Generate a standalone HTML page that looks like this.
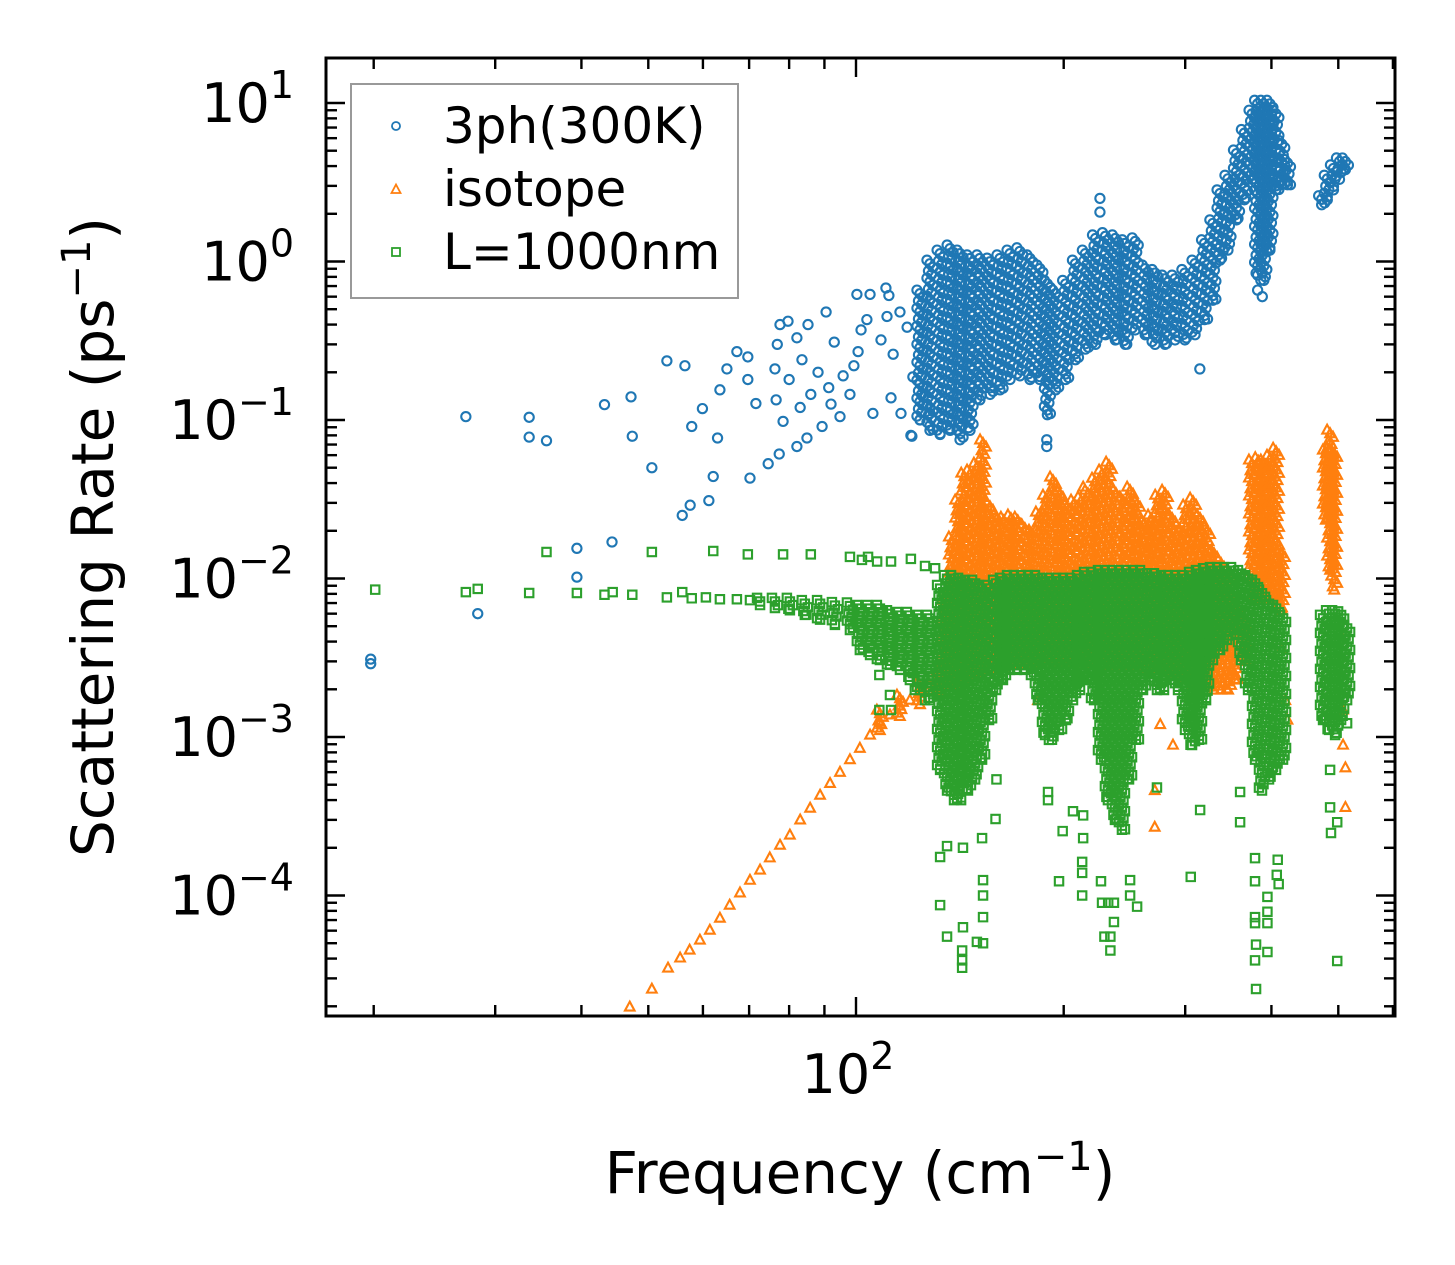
<!DOCTYPE html>
<html><head><meta charset="utf-8"><style>
html,body{margin:0;padding:0;background:#fff;}
svg{display:block;font-family:"DejaVu Sans","Liberation Sans",sans-serif;}
</style></head><body>
<svg id="chart" width="1455" height="1265" viewBox="0 0 1455 1265" xmlns="http://www.w3.org/2000/svg">
<rect x="0" y="0" width="1455" height="1265" fill="#fff"/>
<defs><clipPath id="plotclip"><rect x="326" y="58" width="1069" height="958"/></clipPath></defs>
<g id="marks" clip-path="url(#plotclip)"></g>
<g id="axes"></g>
<g id="legend">
  <rect x="351" y="84" width="387" height="214" fill="#fff" fill-opacity="0.8" stroke="#999" stroke-width="2"/>
  <circle cx="396" cy="126" r="4" fill="none" stroke="#1f77b4" stroke-width="1.8"/>
  <text x="443" y="143" font-size="50" fill="#000">3ph(300K)</text>
  <path d="M396,184.5 L400.5,193 L391.5,193 Z" fill="none" stroke="#ff7f0e" stroke-width="1.8"/>
  <text x="443" y="206" font-size="50" fill="#000">isotope</text>
  <rect x="392" y="248" width="8" height="8" fill="none" stroke="#2ca02c" stroke-width="1.8"/>
  <text x="443" y="269" font-size="50" fill="#000">L=1000nm</text>
</g>
<text x="860" y="1193" font-size="58" text-anchor="middle" fill="#000">Frequency (cm<tspan dy="-23" font-size="40">−1</tspan><tspan dy="23">)</tspan></text>
<text transform="translate(113,537) rotate(-90)" font-size="58" text-anchor="middle" fill="#000">Scattering Rate (ps<tspan dy="-23" font-size="40">−1</tspan><tspan dy="23">)</tspan></text>
</svg>
<script>
// ---- data: 3-phonon (blue) ----
const blueFreq = [19.8,19.8,27.2,28.3,33.6,33.6,35.6,39.4,39.4,43.2,44.3,47.2,47.4,50.6,53.2,56.5,57.8,59.9,62.1,63.0,61.2,56.0,57.5,63.5,65.0,67.2,69.7,69.7,71.6,70.2,74.6,77.4,76.6,76.3,76.9,77.6,79.7,82.1,80.0,78.4,83.0,82.1,84.9,85.2,83.5,88.1,86.0,91.3,92.0,89.3,94.8,90.5,93.0,95.8,99.3,98.0,100.7,101.7,103.7,100.3,104.8,110.5,111.6,105.8,108.7,112.4,116.2,120.1,110.9,115.8,118.6,113.2,120.9,125.1,128.0,225.7,225.7,315,189,189,120.5,382,388];
const blueRate = [3.1e-3,2.9e-3,0.105,6e-3,0.104,0.078,0.074,0.0155,0.0102,0.125,0.017,0.14,0.079,0.05,0.236,0.22,0.091,0.118,0.044,0.077,0.031,0.025,0.029,0.155,0.21,0.27,0.25,0.18,0.127,0.043,0.053,0.061,0.134,0.21,0.30,0.40,0.42,0.33,0.18,0.098,0.12,0.068,0.077,0.40,0.24,0.20,0.145,0.16,0.126,0.091,0.105,0.48,0.31,0.19,0.22,0.145,0.27,0.37,0.43,0.62,0.62,0.68,0.61,0.11,0.32,0.138,0.11,0.08,0.45,0.48,0.385,0.26,0.187,0.14,0.11,2.5,2.05,0.21,0.075,0.068,0.079,0.66,0.6];
const blueBandFreq = [123.8,128,132.4,136.9,141.5,146.3,151.2,156.4,161.7,167.2,172.8,178.7,184.7,189.4,194.7,201.3,208,215,222.4,229.9,237.6,245.6,253.9,262.5,271.3,280.5,290,299.7,310,320,329,337,346,356,365.5,375,382,390,398,406,414,422,473,482,492,502,512];
const blueBandHi = [0.66,1.02,1.18,1.27,1.18,1.10,1.10,1.05,1.10,1.18,1.22,1.10,0.95,0.76,0.66,0.76,1.02,1.18,1.47,1.52,1.47,1.37,1.41,0.95,0.89,0.82,0.82,0.89,1.02,1.37,1.83,2.83,3.5,5.05,6.8,9.0,10.4,10.4,10.4,9.0,5.8,4.4,2.6,3.5,4.07,4.5,4.5];
const blueBandLo = [0.10,0.086,0.081,0.086,0.075,0.086,0.134,0.145,0.155,0.18,0.19,0.18,0.18,0.108,0.155,0.18,0.24,0.28,0.30,0.345,0.32,0.30,0.37,0.345,0.30,0.30,0.32,0.32,0.345,0.43,0.57,1.02,1.18,1.83,2.45,3.3,0.82,0.76,1.18,2.83,3.05,3.05,2.28,2.45,2.83,3.3,3.8];
// ---- data: isotope (orange) ----
const orangeFreq = [47.0,50.6,53.4,55.6,57.4,59.4,61.4,63.5,65.6,67.9,70.2,72.6,75.0,77.6,80.2,83.0,85.8,88.7,91.7,94.8,98.0,101.3,104.8,108.3,112.0,115.8,119.7,123.8,128.0,132.4,213.4,183.5,271,288,276,508,512,508,512,271,414,419,422,508];
const orangeRate = [1.98e-5,2.57e-5,3.49e-5,4.04e-5,4.53e-5,5.24e-5,6.05e-5,7.2e-5,8.7e-5,1.04e-4,1.25e-4,1.45e-4,1.73e-4,2.08e-4,2.41e-4,3.0e-4,3.56e-4,4.3e-4,5.1e-4,6.0e-4,7.2e-4,8.5e-4,1.03e-3,1.24e-3,1.38e-3,1.57e-3,1.71e-3,1.92e-3,2.13e-3,2.35e-3,0.0378,1.7e-3,4.6e-4,8.9e-4,1.2e-3,8.9e-4,6.4e-4,1.48e-3,3.6e-4,2.7e-4,3.6e-3,1.7e-3,1.28e-3,4.1e-3];
const orangeBandFreq = [108.3,115.8,123.8,132.4,134.6,137.7,140.6,143.5,146.3,149.7,152.8,156.4,160.0,163.8,167.7,171.6,175.7,179.9,184.1,188.5,193.0,197.5,202.2,207.0,211.9,216.9,222.0,227.3,232.7,238.2,243.8,249.6,255.5,261.5,267.7,274.1,280.5,287.2,294.0,300.9,308.0,315.3,322.8,330.4,338.2,346.2,354.4,366.3,374.8,382.8,390.0,398.1,406.3,414.4,479.6,486.5,493.3];
const orangeBandHi = [1.48e-3,1.84e-3,2.2e-3,2.65e-3,0.0073,0.0183,0.0313,0.0463,0.0484,0.0535,0.075,0.0299,0.0252,0.0244,0.0252,0.0244,0.0218,0.0202,0.0263,0.0336,0.0437,0.0361,0.0299,0.0313,0.0327,0.0361,0.043,0.0484,0.0543,0.0361,0.0327,0.0378,0.0313,0.0234,0.0252,0.0336,0.0361,0.0252,0.0218,0.0291,0.0322,0.0252,0.0211,0.0151,0.0131,0.0113,0.0073,0.0055,0.056,0.058,0.056,0.060,0.0665,0.0151,0.0647,0.0865,0.0647];
const orangeBandLo = [1.1e-3,1.35e-3,1.6e-3,1.9e-3,0.00198,0.00213,0.00213,0.00229,0.00246,0.00246,0.00265,0.00265,0.00272,0.00272,0.00285,0.00285,0.00285,0.00285,0.00285,0.00285,0.00285,0.00285,0.00285,0.00285,0.00285,0.00285,0.00285,0.00285,0.00285,0.00285,0.00285,0.00285,0.00285,0.00265,0.00265,0.00265,0.00265,0.00246,0.00246,0.00229,0.00213,0.00207,0.00207,0.00198,0.00198,0.00198,0.00229,0.00306,0.0073,0.0073,0.0073,0.0073,0.0073,0.0063,0.0234,0.0113,0.00846];
// ---- data: boundary L=1000nm (green) ----
const greenFreq = [20.1,27.2,28.3,33.6,35.6,39.4,43.2,44.4,47.4,50.6,53.2,56.0,57.8,60.6,62.1,63.5,67.2,69.7,70.2,78.4,86.0,98.0,102.0,104.1,107.3,112.4,120.1,125.9,130.2,108.1,112.4,112.0,108.1,121.7,125.9];
const greenRate = [0.0085,0.0082,0.0086,0.0081,0.0147,0.0081,0.0079,0.0082,0.0079,0.0147,0.0076,0.0082,0.0075,0.0076,0.0149,0.0074,0.0074,0.0142,0.0073,0.0142,0.0142,0.0137,0.0131,0.0137,0.0128,0.0128,0.0133,0.012,0.0116,0.00148,0.00148,0.00184,0.00246,0.00198,0.00171];
const greenOutFreq = [132.4,135.5,142.9,142.5,142.5,142.5,152.8,152.8,152.8,149.7,152.8,135.5,159.3,132.4,142.9,152.3,159.8,189.8,189.8,196.9,199.3,206.3,213.4,213.4,212.7,212.7,212.7,226.5,227.3,232.0,236.5,236.5,229.1,233.7,233.7,249.6,249.6,255.5,273,305.6,315.3,360.3,360.3,378.7,378.7,378.7,378.7,394.7,394.7,380.0,394.7,378.7,380.0,394.7,408.5,407.2,409.8,486.5,498.2,488.0,498.2,486.5,514.9];
const greenOutRate = [8.7e-5,5.5e-5,6.3e-5,4.5e-5,3.9e-5,3.5e-5,1.25e-4,1.0e-4,7.3e-5,5.1e-5,5.0e-5,2.05e-4,3.04e-4,1.75e-4,2.0e-4,2.3e-4,5.4e-4,4.5e-4,4.0e-4,1.23e-4,2.55e-4,3.4e-4,3.2e-4,2.3e-4,1.63e-4,1.39e-4,1.0e-4,1.23e-4,9.0e-5,9.0e-5,9.0e-5,6.8e-5,5.5e-5,5.5e-5,4.5e-5,1.25e-4,1.0e-4,8.5e-5,4.8e-4,1.31e-4,3.46e-4,4.5e-4,2.9e-4,1.72e-4,1.23e-4,7.3e-5,6.7e-5,7.9e-5,6.7e-5,4.9e-5,4.4e-5,3.9e-5,2.57e-5,9.8e-5,1.68e-4,1.35e-4,1.18e-4,3.6e-4,2.9e-4,2.48e-4,3.86e-5,6.2e-4,1.22e-3];
const greenBandFreq = [72.6,76.3,80.2,84.3,88.7,93.2,98.0,101.3,104.8,108.3,112.0,115.8,119.7,123.8,128.0,132.4,135.5,138.7,142.0,145.3,148.8,152.3,155.9,159.6,163.3,167.2,171.1,175.2,179.3,183.5,187.9,192.3,196.9,201.5,206.3,211.2,216.2,221.3,226.5,231.8,237.3,242.9,248.7,254.5,260.6,266.7,273.0,279.5,286.1,292.9,299.8,306.9,314.1,321.6,329.1,337.0,344.9,353.1,361.4,370.0,378.7,387.6,396.8,406.2,415.8,475.2,484.9,494.7,504.7,514.9];
const greenBandHi = [0.00754,0.00754,0.00754,0.0073,0.0073,0.0071,0.00705,0.0068,0.0068,0.0068,0.0063,0.00615,0.00615,0.00589,0.00589,0.0091,0.0105,0.0105,0.0101,0.0098,0.0098,0.0091,0.0091,0.0098,0.0101,0.0105,0.0105,0.0105,0.0105,0.0105,0.0101,0.0101,0.0101,0.0101,0.0101,0.0105,0.0110,0.0110,0.0113,0.0113,0.0113,0.0113,0.0113,0.0113,0.0113,0.0108,0.0108,0.0105,0.0105,0.0105,0.0105,0.0110,0.0113,0.0116,0.0118,0.0118,0.0118,0.0118,0.0113,0.0105,0.0098,0.0085,0.0073,0.0068,0.0059,0.0059,0.0063,0.0063,0.0062,0.0051];
const greenBandLo = [0.0068,0.00652,0.0063,0.00589,0.0055,0.0051,0.00473,0.00354,0.00329,0.00306,0.00285,0.00265,0.00229,0.00198,0.00171,0.00062,0.00046,0.0004,0.0004,0.00046,0.00054,0.00072,0.00128,0.00198,0.00229,0.00265,0.00265,0.00265,0.00246,0.00171,0.00103,0.00096,0.00111,0.00128,0.00171,0.00198,0.00229,0.00171,0.00072,0.0004,0.0003,0.00026,0.00054,0.00096,0.00198,0.00229,0.00198,0.00198,0.00229,0.00198,0.00111,0.00089,0.00096,0.00171,0.00306,0.00354,0.0041,0.00473,0.00306,0.00198,0.00072,0.00046,0.00054,0.00062,0.00072,0.00128,0.00111,0.00103,0.00128,0.00171];
// ---- axis ticks ----
const yMajorTicks = [1e-4,1e-3,1e-2,1e-1,1,10];
const yTickExp = ["−4","−3","−2","−1","0","1"];
const xMajorTicks = [100];
const xTickExp = ["2"];

const NS = "http://www.w3.org/2000/svg";
const X0 = 326, X1 = 1395, Y0 = 58, Y1 = 1016;
const xs = f => 856 + 690 * (Math.log10(f) - 2);
const ys = r => 103 + 158.5 * (1 - Math.log10(r));
const marks = document.getElementById('marks');
const axes = document.getElementById('axes');

function shape(kind, cx, cy) {
  if (kind === 'circle') { const r = 4.6; return `M${cx-r},${cy}a${r},${r} 0 1,0 ${2*r},0a${r},${r} 0 1,0 ${-2*r},0`; }
  if (kind === 'tri') { return `M${cx},${cy-5.3}L${cx+4.8},${cy+3.6}L${cx-4.8},${cy+3.6}Z`; }
  return `M${cx-4.2},${cy-4.2}h8.4v8.4h-8.4Z`;
}
const colors = {circle:'#1f77b4', tri:'#ff7f0e', square:'#2ca02c'};
function mkPath(d, kind, name) {
  const p = document.createElementNS(NS, 'path');
  p.setAttribute('d', d);
  p.setAttribute('fill', 'none');
  p.setAttribute('stroke', colors[kind]);
  p.setAttribute('stroke-width', '2.1');
  
  
  marks.appendChild(p);
  return p;
}
function drawBands(freq, hi, lo, kind, name) {
  const n = Math.min(freq.length, hi.length, lo.length);
  const jit = [-3, 0, 3, -1.5, 1.5];
  for (let i = 0; i < n; i++) {
    const cx = xs(freq[i]);
    const yt = ys(hi[i]), yb = ys(lo[i]);
    let d = '';
    let k = 0;
    for (let y = yt; y <= yb + 0.01; y += 3.6) { d += shape(kind, cx + jit[k % 5], y); k++; }
    d += shape(kind, cx, yb);
    const p = mkPath(d, kind, name);
  }
}
function drawPoints(freq, rate, kind, name) {
  const n = Math.min(freq.length, rate.length);
  for (let i = 0; i < n; i++) {
    const p = mkPath(shape(kind, xs(freq[i]), ys(rate[i])), kind, name);
  }
}
drawPoints(blueFreq, blueRate, 'circle', '3ph-point');
drawBands(blueBandFreq, blueBandHi, blueBandLo, 'circle', '3ph-dense-column');
drawPoints(orangeFreq, orangeRate, 'tri', 'isotope-point');
drawBands(orangeBandFreq, orangeBandHi, orangeBandLo, 'tri', 'isotope-dense-column');
drawPoints(greenFreq, greenRate, 'square', 'boundary-point');
drawPoints(greenOutFreq, greenOutRate, 'square', 'boundary-point');
drawBands(greenBandFreq, greenBandHi, greenBandLo, 'square', 'boundary-dense-column');

function line(x1, y1, x2, y2, w, name) {
  const l = document.createElementNS(NS, 'line');
  l.setAttribute('x1', x1); l.setAttribute('y1', y1); l.setAttribute('x2', x2); l.setAttribute('y2', y2);
  l.setAttribute('stroke', '#000'); l.setAttribute('stroke-width', w);
  
  
  axes.appendChild(l);
}
for (let e = -5; e <= 1; e++) {
  for (let m = 1; m <= 9; m++) {
    const v = m * Math.pow(10, e);
    const y = ys(v);
    if (y < Y0 + 1 || y > Y1 - 1) continue;
    const len = m === 1 ? 19 : 11;
    line(X0, y, X0 + len, y, 2.4, m === 1 ? 'y-major-tick' : 'y-minor-tick');
    line(X1, y, X1 - len, y, 2.4, m === 1 ? 'y-major-tick-right' : 'y-minor-tick-right');
  }
}
for (let e = 1; e <= 2; e++) {
  for (let m = 1; m <= 9; m++) {
    const v = m * Math.pow(10, e);
    const x = xs(v);
    if (x < X0 + 1 || x > X1 - 1) continue;
    const len = m === 1 ? 19 : 11;
    line(x, Y1, x, Y1 - len, 2.4, m === 1 ? 'x-major-tick' : 'x-minor-tick');
    line(x, Y0, x, Y0 + len, 2.4, m === 1 ? 'x-major-tick-top' : 'x-minor-tick-top');
  }
}
const fr = document.createElementNS(NS, 'rect');
fr.setAttribute('x', X0); fr.setAttribute('y', Y0); fr.setAttribute('width', X1 - X0); fr.setAttribute('height', Y1 - Y0);
fr.setAttribute('fill', 'none'); fr.setAttribute('stroke', '#000'); fr.setAttribute('stroke-width', '3');


axes.appendChild(fr);
yMajorTicks.forEach((v, i) => {
  const t = document.createElementNS(NS, 'text');
  t.setAttribute('x', 294); t.setAttribute('y', ys(v) + 19);
  t.setAttribute('text-anchor', 'end'); t.setAttribute('font-size', '54'); t.setAttribute('fill', '#000');
  
  
  t.innerHTML = `10<tspan dy="-24" font-size="38">${yTickExp[i]}</tspan>`;
  axes.appendChild(t);
});
xMajorTicks.forEach((v, i) => {
  const t = document.createElementNS(NS, 'text');
  t.setAttribute('x', xs(v) - 8); t.setAttribute('y', 1093);
  t.setAttribute('text-anchor', 'middle'); t.setAttribute('font-size', '54'); t.setAttribute('fill', '#000');
  
  
  t.innerHTML = `10<tspan dy="-24" font-size="38">${xTickExp[i]}</tspan>`;
  axes.appendChild(t);
});
</script>
</body></html>
